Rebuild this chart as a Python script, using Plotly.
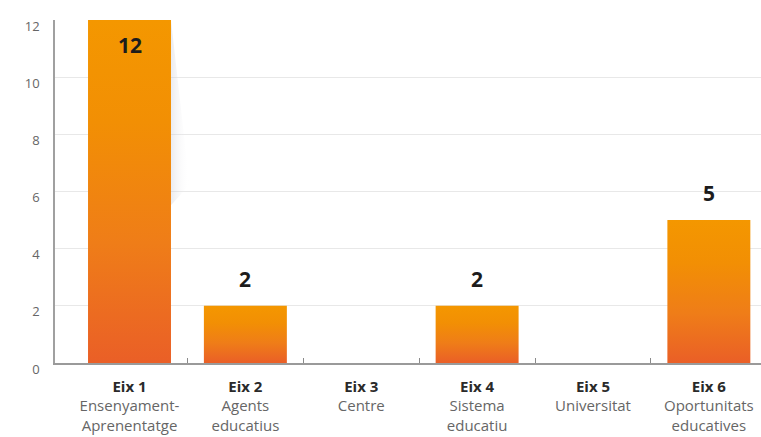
import plotly.graph_objects as go

# Axis categories (bold heading + description) and their counts
eixos = ["Eix 1", "Eix 2", "Eix 3", "Eix 4", "Eix 5", "Eix 6"]
descripcions = [
    "Ensenyament-<br>Aprenentatge",
    "Agents<br>educatius",
    "Centre",
    "Sistema<br>educatiu",
    "Universitat",
    "Oportunitats<br>educatives",
]
valors = [12, 2, 0, 2, 0, 5]
y_ticks = [0, 2, 4, 6, 8, 10, 12]

FONT = "Open Sans, Segoe UI, Arial, sans-serif"
BAR_WIDTH = 0.716
HALF = BAR_WIDTH / 2
GRADIENT = [[0.0, "#EA5F27"], [0.35, "#EF7D18"], [0.7, "#F28F04"], [1.0, "#F49700"]]
Y_MAX = max(y_ticks)

fig = go.Figure()

# Bars drawn as filled rectangles so each one gets its own vertical gradient
for i, v in enumerate(valors):
    if v <= 0:
        continue
    fig.add_trace(go.Scatter(
        x=[i - HALF, i + HALF, i + HALF, i - HALF, i - HALF],
        y=[0, 0, v, v, 0],
        mode="lines",
        fill="toself",
        line=dict(width=0),
        fillgradient=dict(type="vertical", colorscale=GRADIENT),
        hoverinfo="skip",
        showlegend=False,
    ))

# Faint drop shadow to the right of the tallest bar
i_max = valors.index(max(valors))
v_max = valors[i_max]
xr = i_max + HALF
fig.add_trace(go.Scatter(
    x=[xr, xr + 0.16, xr, xr],
    y=[v_max, v_max * 0.52, v_max * 0.46, v_max],
    mode="lines",
    fill="toself",
    line=dict(width=0),
    fillgradient=dict(type="horizontal",
                      colorscale=[[0, "rgba(190,190,200,0.30)"], [1, "rgba(255,255,255,0)"]]),
    hoverinfo="skip",
    showlegend=False,
))

# Value labels
for i, v in enumerate(valors):
    if v <= 0:
        continue
    inside = v >= Y_MAX
    fig.add_annotation(
        x=i, y=v, text=f"<b>{v}</b>", showarrow=False,
        yanchor="top" if inside else "bottom",
        yshift=-9 if inside else 11,
        font=dict(family=FONT, size=21, color="#1c1c1c"),
    )

ticktext = [f"<b><span style='color:#2a2a2a'>{e}</span></b><br>{d}"
            for e, d in zip(eixos, descripcions)]

fig.update_layout(
    width=761, height=437,
    margin=dict(l=55, r=0, t=20, b=74),
    plot_bgcolor="white", paper_bgcolor="white",
    font=dict(family=FONT),
    xaxis=dict(
        range=[-0.643, 5.45],
        tickvals=list(range(len(eixos))),
        ticktext=ticktext,
        ticks="",
        tickfont=dict(size=15, color="#666666"),
        ticklabelstandoff=9,
        showgrid=False, zeroline=False,
        showline=True, linecolor="#9a9a9a", linewidth=1.5,
        minor=dict(tickvals=[k + 0.5 for k in range(len(eixos) - 1)],
                   ticks="inside", ticklen=5, tickcolor="#8a8a8a",
                   showgrid=False),
    ),
    yaxis=dict(
        range=[0, Y_MAX],
        tickvals=y_ticks,
        ticks="",
        tickfont=dict(size=13, color="#666666"),
        ticklabelshift=6,
        ticklabelstandoff=11,
        showgrid=True, gridcolor="#E8E8E8", gridwidth=1,
        zeroline=False,
        showline=True, linecolor="#a0a0a0", linewidth=1.5,
    ),
)

fig.write_html("out.html")
